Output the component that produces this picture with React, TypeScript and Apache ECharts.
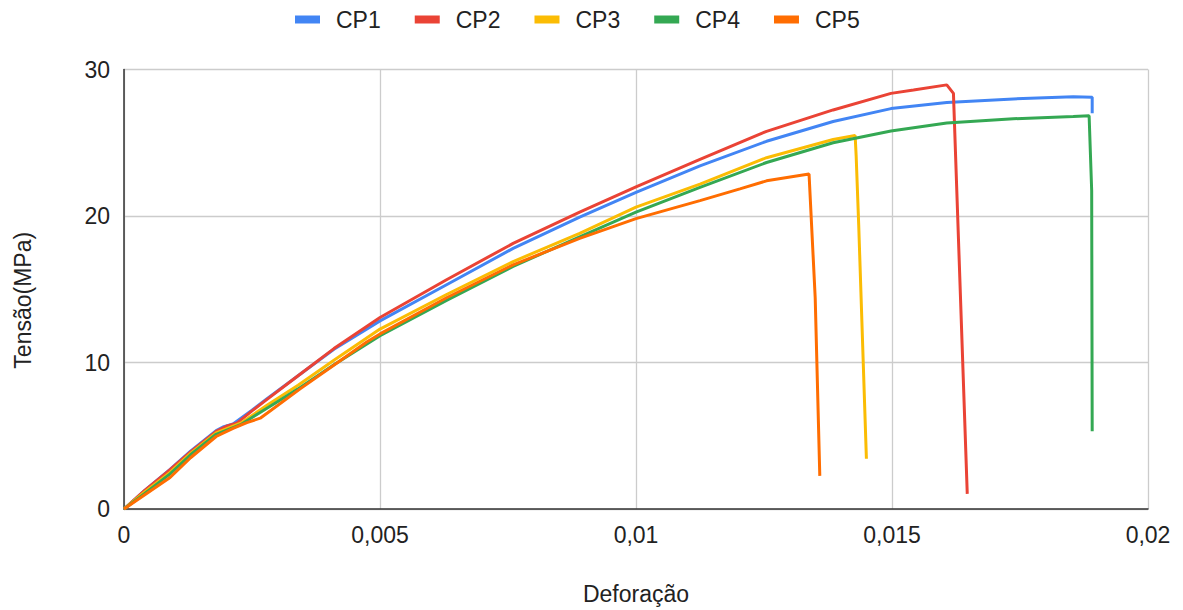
import React, { useEffect, useRef } from "react";
import * as echarts from "echarts";

const seriesNames = ["CP1", "CP2", "CP3", "CP4", "CP5"];
const seriesColors = ["#4285F4", "#EA4335", "#FBBC04", "#34A853", "#FF6D01"];

const xTicks = [0, 0.005, 0.01, 0.015, 0.02];
const yTicks = [0, 10, 20, 30];

const cp1: number[][] = [
  [0, 0], [0.0004, 1.25], [0.0009, 2.7], [0.0013, 3.95], [0.0018, 5.35], [0.00195, 5.62],
  [0.00213, 5.8], [0.0025, 6.75], [0.0028, 7.55], [0.0034, 9.1], [0.0041, 10.9],
  [0.005, 12.84], [0.0063, 15.31], [0.0076, 17.79], [0.0089, 19.93], [0.01, 21.62],
  [0.01125, 23.42], [0.01255, 25.1], [0.01385, 26.45], [0.01498, 27.33], [0.01607, 27.74],
  [0.01737, 27.99], [0.01854, 28.14], [0.01891, 28.1], [0.01891, 27.02],
];

const cp2: number[][] = [
  [0, 0], [0.0004, 1.25], [0.0009, 2.68], [0.0013, 3.9], [0.0018, 5.3], [0.002, 5.65],
  [0.0022, 5.85], [0.0025, 6.7], [0.0028, 7.5], [0.0034, 9.1], [0.0041, 10.95],
  [0.005, 13.07], [0.0063, 15.65], [0.0076, 18.13], [0.0089, 20.27], [0.01, 21.98],
  [0.01125, 23.87], [0.01255, 25.78], [0.01385, 27.24], [0.01498, 28.37], [0.01542, 28.6],
  [0.01607, 28.95], [0.0162, 28.37], [0.01647, 1.03],
];

const cp3: number[][] = [
  [0, 0], [0.0004, 1.15], [0.0009, 2.5], [0.0013, 3.8], [0.0018, 5.2], [0.0023, 5.9],
  [0.0028, 7.1], [0.0034, 8.45], [0.0041, 10.15], [0.005, 12.28], [0.0063, 14.64],
  [0.0076, 16.89], [0.0089, 18.81], [0.01, 20.61], [0.01125, 22.18], [0.01255, 23.98],
  [0.01385, 25.22], [0.01428, 25.49], [0.0143, 24.1], [0.01435, 19.37], [0.0145, 3.43],
];

const cp4: number[][] = [
  [0, 0], [0.0004, 1.05], [0.0009, 2.4], [0.0013, 3.7], [0.0018, 5.1], [0.0023, 5.8],
  [0.0028, 6.9], [0.0034, 8.2], [0.0041, 9.85], [0.005, 11.83], [0.0063, 14.24],
  [0.0076, 16.56], [0.0089, 18.58], [0.01, 20.27], [0.01125, 21.96], [0.01255, 23.65],
  [0.01385, 25.0], [0.01498, 25.8], [0.01607, 26.35], [0.01737, 26.64], [0.01854, 26.79],
  [0.01885, 26.84], [0.0189, 21.73], [0.01891, 5.31],
];

const cp5: number[][] = [
  [0, 0], [0.0004, 0.95], [0.0009, 2.15], [0.0013, 3.5], [0.0018, 4.95], [0.00213, 5.5],
  [0.0024, 5.9], [0.00266, 6.2], [0.0028, 6.55], [0.00344, 8.2], [0.00409, 9.8],
  [0.00474, 11.4], [0.005, 11.95], [0.0063, 14.42], [0.0076, 16.67], [0.0089, 18.47],
  [0.01, 19.82], [0.01125, 21.05], [0.01203, 21.85], [0.01255, 22.4], [0.01338, 22.86],
  [0.0135, 14.42], [0.01359, 2.26],
];

const allData = [cp1, cp2, cp3, cp4, cp5];

const FONT = "'Liberation Sans', Arial, sans-serif";

export default function App() {
  const ref = useRef<HTMLDivElement>(null);

  useEffect(() => {
    if (!ref.current) return;
    const chart = echarts.init(ref.current, undefined, { renderer: "svg" });
    chart.setOption({
      animation: false,
      backgroundColor: "#ffffff",
      textStyle: { fontFamily: FONT },
      legend: {
        left: 290,
        top: 3,
        icon: "rect",
        itemWidth: 25,
        itemHeight: 8,
        itemGap: 34,
        data: seriesNames,
        textStyle: {
          fontFamily: FONT,
          fontSize: 23,
          color: "#222222",
          padding: [0, 0, 0, 11],
        },
      },
      grid: { left: 124, right: 35, top: 69.5, bottom: 96.5, containLabel: false },
      xAxis: {
        type: "value",
        min: xTicks[0],
        max: xTicks[xTicks.length - 1],
        interval: xTicks[1] - xTicks[0],
        name: "Deforação",
        nameLocation: "middle",
        nameGap: 73,
        nameTextStyle: { fontFamily: FONT, fontSize: 23, color: "#222222" },
        axisLine: { show: true, lineStyle: { color: "#333333", width: 1.5 } },
        axisTick: { show: false },
        axisLabel: {
          fontFamily: FONT,
          fontSize: 23,
          color: "#222222",
          margin: 14,
          formatter: (v: number) => String(+v.toFixed(4)).replace(".", ","),
        },
        splitLine: { show: true, lineStyle: { color: "#cccccc", width: 1.3 } },
      },
      yAxis: {
        type: "value",
        min: yTicks[0],
        max: yTicks[yTicks.length - 1],
        interval: yTicks[1] - yTicks[0],
        name: "Tensão(MPa)",
        nameLocation: "middle",
        nameGap: 90,
        nameTextStyle: { fontFamily: FONT, fontSize: 23, color: "#222222", padding: [0, 22, 0, 0] },
        axisLine: { show: true, lineStyle: { color: "#333333", width: 1.5 } },
        axisTick: { show: false },
        axisLabel: { fontFamily: FONT, fontSize: 23, color: "#222222", margin: 14 },
        splitLine: { show: true, lineStyle: { color: "#cccccc", width: 1.3 } },
      },
      series: seriesNames.map((name, i) => ({
        name,
        type: "line",
        data: allData[i],
        showSymbol: false,
        symbol: "none",
        lineStyle: { color: seriesColors[i], width: 3 },
        itemStyle: { color: seriesColors[i] },
        emphasis: { disabled: true },
      })),
    });
    return () => chart.dispose();
  }, []);

  return (
    <div
      ref={ref}
      style={{ position: "fixed", left: 0, top: 0, width: 1183, height: 610 }}
    />
  );
}
